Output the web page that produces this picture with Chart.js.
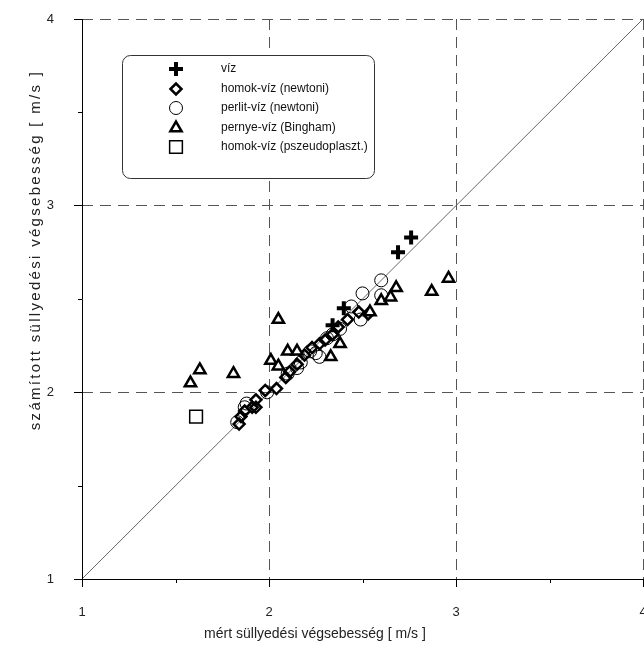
<!DOCTYPE html>
<html>
<head>
<meta charset="utf-8">
<script src="https://cdn.jsdelivr.net/npm/chart.js@4/dist/chart.umd.min.js"></script>
<style>
  html, body { margin: 0; padding: 0; background: #fff; }
  #wrap { width: 644px; height: 646px; }
</style>
</head>
<body>
<div id="wrap"><canvas id="c"></canvas></div>
<script>
// series values
var vizX = [2.34, 2.40, 2.69, 2.76];
var vizY = [2.36, 2.45, 2.75, 2.83];

var homokX = [1.84, 1.85, 1.87, 1.91, 1.93, 1.93, 1.98, 2.04, 2.09, 2.11, 2.15, 2.19, 2.23, 2.27, 2.30, 2.34, 2.37, 2.42, 2.48, 2.53];
var homokY = [1.83, 1.87, 1.90, 1.92, 1.92, 1.96, 2.01, 2.02, 2.08, 2.11, 2.15, 2.20, 2.24, 2.26, 2.28, 2.31, 2.35, 2.39, 2.43, 2.42];

var perlitX = [1.83, 1.87, 1.88, 1.99, 2.10, 2.15, 2.17, 2.22, 2.25, 2.27, 2.31, 2.34, 2.38, 2.44, 2.49, 2.50, 2.60, 2.60];
var perlitY = [1.84, 1.92, 1.94, 2.00, 2.10, 2.13, 2.16, 2.22, 2.21, 2.19, 2.29, 2.31, 2.34, 2.46, 2.39, 2.53, 2.52, 2.60];

var pernyeX = [1.58, 1.63, 1.81, 2.01, 2.05, 2.05, 2.10, 2.15, 2.33, 2.38, 2.54, 2.60, 2.65, 2.68, 2.87, 2.96];
var pernyeY = [2.05, 2.12, 2.10, 2.17, 2.39, 2.14, 2.22, 2.22, 2.19, 2.26, 2.43, 2.49, 2.51, 2.56, 2.54, 2.61];

var pszeudoX = [1.61];
var pszeudoY = [1.87];

var lineX = [1, 4];
var lineY = [1, 4];

var seriesNames = ["víz", "homok-víz (newtoni)", "perlit-víz (newtoni)", "pernye-víz (Bingham)", "homok-víz (pszeudoplaszt.)"];
var xTitle = "mért süllyedési végsebesség [ m/s ]";
var yTitle = "számított süllyedési végsebesség [ m/s ]";
var majorTicks = [1, 2, 3, 4];
var minorTicks = [1.5, 2.5, 3.5];

function pts(xs, ys) {
  return xs.map(function (x, i) { return { x: x, y: ys[i] }; });
}

var FONT = "'Liberation Sans', Arial, sans-serif";

var styles = [
  { pointStyle: "cross", pointRadius: 7, pointBorderWidth: 4, pointBackgroundColor: "#000" },
  { pointStyle: "rectRot", pointRadius: 5.5, pointBorderWidth: 2.5, pointBackgroundColor: "rgba(255,255,255,0)" },
  { pointStyle: "circle", pointRadius: 6.5, pointBorderWidth: 1, pointBackgroundColor: "rgba(255,255,255,0)" },
  { pointStyle: "triangle", pointRadius: 6.5, pointBorderWidth: 2.5, pointBackgroundColor: "#fff" },
  { pointStyle: "rect", pointRadius: 9, pointBorderWidth: 1.5, pointBackgroundColor: "#fff" }
];
var allData = [pts(vizX, vizY), pts(homokX, homokY), pts(perlitX, perlitY), pts(pernyeX, pernyeY), pts(pszeudoX, pszeudoY)];

var datasets = [{
  type: "line",
  label: "y = x",
  data: pts(lineX, lineY),
  borderColor: "#666",
  borderWidth: 1,
  pointRadius: 0,
  fill: false,
  order: 10
}];
allData.forEach(function (d, i) {
  datasets.push(Object.assign({
    label: seriesNames[i],
    data: d,
    pointBorderColor: "#000",
    showLine: false,
    order: 5 - i
  }, styles[i]));
});

// legend box drawn inside the plot
var boxLegend = {
  id: "boxLegend",
  afterDraw: function (chart) {
    var ctx = chart.ctx;
    ctx.save();
    ctx.beginPath();
    ctx.roundRect(122.5, 55.5, 252, 123, 8);
    ctx.fillStyle = "#fff";
    ctx.fill();
    ctx.strokeStyle = "#333";
    ctx.lineWidth = 1;
    ctx.stroke();
    var rows = [69, 89, 108, 128, 147];
    seriesNames.forEach(function (name, i) {
      var s = styles[i];
      ctx.strokeStyle = "#000";
      ctx.fillStyle = s.pointBackgroundColor;
      ctx.lineWidth = s.pointBorderWidth;
      Chart.helpers.drawPoint(ctx, { pointStyle: s.pointStyle, radius: s.pointRadius, borderWidth: s.pointBorderWidth, rotation: 0 }, 176, rows[i]);
      ctx.fillStyle = "#111";
      ctx.font = "12px " + FONT;
      ctx.textBaseline = "middle";
      ctx.textAlign = "left";
      ctx.fillText(name, 221, rows[i]);
    });
    ctx.restore();
  }
};

// axis lines and short minor ticks at the half values
var axisMarks = {
  id: "axisMarks",
  afterDatasetsDraw: function (chart) {
    var ctx = chart.ctx;
    var xs = chart.scales.x, ys = chart.scales.y;
    ctx.save();
    ctx.setLineDash([]);
    ctx.strokeStyle = "#000";
    ctx.lineWidth = 1;
    ctx.beginPath();
    var bx = Math.round(ys.right) + 0.5, by = Math.round(xs.top) + 0.5;
    ctx.moveTo(bx, ys.top);
    ctx.lineTo(bx, ys.bottom + 1);
    ctx.moveTo(xs.left, by);
    ctx.lineTo(xs.right, by);
    minorTicks.forEach(function (v) {
      var px = Math.round(xs.getPixelForValue(v)) + 0.5;
      ctx.moveTo(px, xs.top);
      ctx.lineTo(px, xs.top + 4);
      var py = Math.round(ys.getPixelForValue(v)) + 0.5;
      ctx.moveTo(ys.right, py);
      ctx.lineTo(ys.right - 4, py);
    });
    ctx.stroke();
    ctx.restore();
  }
};

// axis titles (the y title is spread out in the source figure)
var axisTitles = {
  id: "axisTitles",
  afterDraw: function (chart) {
    var ctx = chart.ctx;
    ctx.save();
    ctx.fillStyle = "#222";
    ctx.font = "14px " + FONT;
    ctx.textAlign = "center";
    ctx.textBaseline = "middle";
    ctx.fillText(xTitle, 315, 634);
    ctx.font = "15px " + FONT;
    ctx.translate(36, 250);
    ctx.rotate(-Math.PI / 2);
    ctx.letterSpacing = "2.3px";
    ctx.fillText(yTitle, 0, 0);
    ctx.restore();
  }
};

function gridColor(c) {
  return (majorTicks.indexOf(c.tick.value) > 0) ? "#555" : "rgba(0,0,0,0)";
}
function tickColor(c) {
  return majorTicks.indexOf(c.tick.value) >= 0 ? "#000" : "rgba(0,0,0,0)";
}
function tickLabel(v) {
  return majorTicks.indexOf(v) >= 0 ? String(v) : "";
}

function axis(fit, pad) {
  return {
    type: "linear",
    min: 1,
    max: 4,
    afterFit: fit,
    border: { display: false, dash: [11, 7] },
    grid: {
      color: gridColor,
      tickColor: tickColor,
      tickLength: 8,
      tickBorderDash: []
    },
    ticks: {
      stepSize: 0.5,
      autoSkip: false,
      maxRotation: 0,
      padding: pad,
      color: "#222",
      font: { family: FONT, size: 13 },
      callback: tickLabel
    }
  };
}

new Chart(document.getElementById("c"), {
  type: "scatter",
  data: { datasets: datasets },
  plugins: [boxLegend, axisMarks, axisTitles],
  options: {
    responsive: true,
    maintainAspectRatio: false,
    animation: false,
    layout: { autoPadding: false, padding: { top: 19, right: 1, left: 0, bottom: 0 } },
    plugins: {
      legend: { display: false },
      tooltip: { enabled: false }
    },
    scales: {
      x: axis(function (s) { s.height = 67; s.paddingLeft = 0; s.paddingRight = 0; }, 18),
      y: axis(function (s) { s.width = 82; s.paddingTop = 0; s.paddingBottom = 0; }, 20)
    }
  }
});
</script>
</body>
</html>
